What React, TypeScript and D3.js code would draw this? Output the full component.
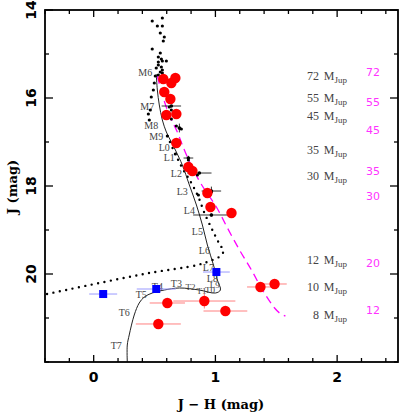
import React from "react";
import * as d3 from "d3";

// ---------- data ----------
const seqJH = [0.514, 0.523, 0.539, 0.564, 0.597, 0.638, 0.679, 0.728, 0.786, 0.844, 0.893, 0.934, 0.984, 1.016, 1.041, 1.0, 0.868, 0.704, 0.58, 0.481, 0.416, 0.374, 0.333, 0.292, 0.276, 0.276];
const seqJ = [15.455, 15.818, 16.159, 16.5, 16.773, 17.0, 17.227, 17.523, 17.977, 18.432, 18.886, 19.341, 19.795, 20.136, 20.364, 20.432, 20.364, 20.318, 20.364, 20.432, 20.523, 20.659, 20.932, 21.386, 21.614, 22.0];

const dashJH = [0.523, 0.564, 0.621, 0.687, 0.745, 0.819, 0.893, 1.008, 1.099, 1.198, 1.296, 1.387, 1.486, 1.527, 1.576];
const dashJ = [15.5, 15.932, 16.386, 16.773, 17.182, 17.636, 18.0, 18.477, 18.955, 19.455, 19.909, 20.364, 20.773, 20.886, 20.955];

const dotJH = [0.605, 0.663, 0.728, 0.802, 0.86, 0.91, 0.975, 1.033, 1.066, 1.041, 0.975, 0.852, 0.457, 0.045, -0.383];
const dotJ = [16.864, 17.227, 17.591, 17.932, 18.25, 18.614, 19.0, 19.318, 19.477, 19.591, 19.682, 19.795, 19.977, 20.205, 20.455];

const spLabels = ["M6", "M7", "M8", "M9", "L0", "L1", "L2", "L3", "L4", "L5", "L6", "L7", "L8", "L9", "T0", "T1", "T2", "T3", "T4", "T5", "T6", "T7"];
const spJH = [0.424, 0.44, 0.473, 0.514, 0.58, 0.621, 0.679, 0.728, 0.786, 0.852, 0.909, 0.942, 0.975, 0.995, 0.955, 0.885, 0.795, 0.679, 0.523, 0.391, 0.251, 0.185];
const spJ = [15.41, 16.2, 16.636, 16.886, 17.114, 17.341, 17.705, 18.114, 18.568, 19.023, 19.455, 19.841, 20.091, 20.25, 20.37, 20.39, 20.295, 20.227, 20.295, 20.455, 20.886, 21.636];

const smallJH = [0.481, 0.523, 0.564, 0.564, 0.547, 0.58, 0.572, 0.481, 0.547, 0.531, 0.556, 0.564, 0.531, 0.597, 0.531, 0.556, 0.514, 0.564, 0.547, 0.506, 0.531, 0.564, 0.498, 0.49, 0.473, 0.465, 0.449, 0.457, 0.621, 0.638, 0.638, 0.679, 0.704, 0.72, 0.605, 0.671, 0.778, 0.852, 0.86, 0.967, 0.967];
const smallJ = [14.25, 14.364, 14.364, 14.182, 14.523, 14.614, 14.705, 14.886, 14.977, 15.068, 15.114, 15.159, 15.182, 15.159, 15.25, 15.295, 15.318, 15.364, 15.409, 15.5, 15.477, 15.432, 15.659, 15.818, 15.977, 16.273, 16.364, 16.5, 16.205, 16.273, 16.477, 16.636, 16.682, 16.705, 16.864, 17.273, 17.409, 17.75, 18.205, 18.136, 18.659];

const crossJH = [0.638, 0.704, 0.778, 0.868, 0.967, 0.967];
const crossJ = [16.182, 16.682, 17.364, 17.705, 18.114, 18.659];
const crossEJH = [0.08, 0.0, 0.04, 0.1, 0.08, 0.15];
const crossEJ = [0.0, 0.1, 0.05, 0.0, 0.1, 0.0];

const redJH = [0.572, 0.671, 0.638, 0.58, 0.63, 0.597, 0.679, 0.679, 0.778, 0.811, 0.934, 0.959, 1.132, 1.37, 1.486, 0.605, 0.909, 1.082, 0.531];
const redJ = [15.568, 15.545, 15.659, 15.864, 16.023, 16.386, 16.364, 17.023, 17.568, 17.659, 18.159, 18.477, 18.614, 20.295, 20.227, 20.659, 20.614, 20.841, 21.136];
const redEJH = [0, 0, 0, 0, 0, 0, 0, 0, 0, 0, 0, 0, 0, 0.11, 0.1, 0.145, 0.255, 0.18, 0.185];
const redEJ = [0, 0, 0, 0, 0, 0, 0, 0, 0, 0, 0, 0, 0, 0.05, 0.05, 0.1, 0.17, 0.08, 0.11];

const blueJH = [0.078, 0.514, 1.008];
const blueJ = [20.455, 20.341, 19.955];
const blueEJH = [0.115, 0.16, 0.11];
const blueEJ = [0.06, 0.06, 0.06];

const massLabels = ["72", "55", "45", "35", "30", "12", "10", "8"];
const massJ = [15.49, 16.0, 16.41, 17.18, 17.77, 19.68, 20.3, 20.93];
const magentaLabels = ["72", "55", "45", "35", "30", "20", "12"];
const magentaJ = [15.43, 16.11, 16.73, 17.66, 18.23, 19.75, 20.84];

const xMajor = [0, 1, 2];
const yMajor = [14, 16, 18, 20];

// ---------- layout ----------
const W = 399, H = 414;
const L = 45, R = 398, T = 10, B = 362;

export default function App() {
  const x = d3.scaleLinear().domain([-0.4, 2.5]).range([L, R]);
  const y = d3.scaleLinear().domain([14, 22]).range([T, B]);

  const mk = () => d3.line<[number, number]>().x(d => x(d[0])).y(d => y(d[1])).curve(d3.curveCatmullRom.alpha(0.5));
  const seqPath = mk()(seqJH.map((v, i) => [v, seqJ[i]]));
  const dashPath = mk()(dashJH.map((v, i) => [v, dashJ[i]]));
  const dotPath = mk()(dotJH.map((v, i) => [v, dotJ[i]]));

  const xMinor = d3.range(-0.4, 2.5001, 0.2).map(v => +v.toFixed(2));
  const yMinor = d3.range(14, 22.001, 1);

  const tickFont = "DejaVu Sans";
  const labelColor = "#444";

  return (
    <svg width={W} height={H} style={{ position: "absolute", left: 0, top: 0, background: "#fff" }}>
      <rect x={0} y={0} width={W} height={H} fill="#fff" />
      <defs>
        <clipPath id="plot">
          <rect x={L} y={T} width={R - L} height={B - T} />
        </clipPath>
      </defs>

      <g clipPath="url(#plot)">
        <path d={dotPath || ""} fill="none" stroke="#000" strokeWidth={2.4} strokeDasharray="0 6.5" strokeLinecap="round" />
        <path d={dashPath || ""} fill="none" stroke="#f0f" strokeWidth={1.3} strokeDasharray="8 5" />
        <path d={seqPath || ""} fill="none" stroke="#222" strokeWidth={1} />

        {spLabels.map((s, i) => (
          <text key={s} x={x(spJH[i])} y={y(spJ[i])} fontFamily="Liberation Serif" fontSize={["L9", "T0", "T1", "T2"].includes(s) ? 9 : 10} fill={labelColor} textAnchor="middle" dominantBaseline="central">{s}</text>
        ))}

        {smallJH.map((v, i) => (
          <circle key={"s" + i} cx={x(v)} cy={y(smallJ[i])} r={1.6} fill="#000" />
        ))}
        {crossJH.map((v, i) => (
          <g key={"c" + i} stroke="#000" strokeWidth={0.8}>
            {crossEJH[i] > 0 && <line x1={x(v - crossEJH[i])} x2={x(v + crossEJH[i])} y1={y(crossJ[i])} y2={y(crossJ[i])} />}
            {crossEJ[i] > 0 && <line x1={x(v)} x2={x(v)} y1={y(crossJ[i] - crossEJ[i])} y2={y(crossJ[i] + crossEJ[i])} />}
            <circle cx={x(v)} cy={y(crossJ[i])} r={1.8} fill="#000" stroke="none" />
          </g>
        ))}

        {redJH.map((v, i) => (
          <g key={"re" + i} stroke="#ff8080" strokeWidth={1}>
            {redEJH[i] > 0 && <line x1={x(v - redEJH[i])} x2={x(v + redEJH[i])} y1={y(redJ[i])} y2={y(redJ[i])} />}
            {redEJ[i] > 0 && <line x1={x(v)} x2={x(v)} y1={y(redJ[i] - redEJ[i])} y2={y(redJ[i] + redEJ[i])} />}
          </g>
        ))}
        {redJH.map((v, i) => (
          <circle key={"r" + i} cx={x(v)} cy={y(redJ[i])} r={5.2} fill="#ff0000" />
        ))}

        {blueJH.map((v, i) => (
          <g key={"b" + i}>
            <line x1={x(v - blueEJH[i])} x2={x(v + blueEJH[i])} y1={y(blueJ[i])} y2={y(blueJ[i])} stroke="#9999ff" strokeWidth={1} />
            <line x1={x(v)} x2={x(v)} y1={y(blueJ[i] - blueEJ[i])} y2={y(blueJ[i] + blueEJ[i])} stroke="#9999ff" strokeWidth={1} />
            <rect x={x(v) - 4} y={y(blueJ[i]) - 4} width={8} height={8} fill="#0000ff" />
          </g>
        ))}
      </g>

      {massLabels.map((m, i) => (
        <g key={"m" + i} fontFamily="Liberation Serif" fill="#444">
          <text x={x(1.851)} y={y(massJ[i])} fontSize={12} textAnchor="end" dominantBaseline="central">{m}</text>
          <text x={x(1.89)} y={y(massJ[i])} fontSize={12} dominantBaseline="central">M<tspan fontSize={9} dy={4}>Jup</tspan></text>
        </g>
      ))}
      {magentaLabels.map((m, i) => (
        <text key={"g" + i} x={x(2.295)} y={y(magentaJ[i])} fontFamily="DejaVu Sans" fontSize={11} fill="#ff33ff" textAnchor="middle" dominantBaseline="central">{m}</text>
      ))}

      <rect x={L} y={T} width={R - L} height={B - T} fill="none" stroke="#000" strokeWidth={1.8} />

      {xMinor.map((v, i) => {
        const major = xMajor.some(m => Math.abs(m - v) < 1e-6);
        const len = major ? 7 : 4;
        return (
          <g key={"xt" + i} stroke="#000" strokeWidth={1.3}>
            <line x1={x(v)} x2={x(v)} y1={B} y2={B - len} />
            <line x1={x(v)} x2={x(v)} y1={T} y2={T + len} />
          </g>
        );
      })}
      {yMinor.map((v, i) => {
        const major = yMajor.includes(v);
        const len = major ? 8 : 4;
        return (
          <g key={"yt" + i} stroke="#000" strokeWidth={1.3}>
            <line x1={L} x2={L + len} y1={y(v)} y2={y(v)} />
            <line x1={R} x2={R - len} y1={y(v)} y2={y(v)} />
          </g>
        );
      })}

      {xMajor.map(v => (
        <text key={"xl" + v} x={x(v)} y={377} fontFamily={tickFont} fontWeight="bold" fontSize={14} textAnchor="middle" dominantBaseline="central">{v}</text>
      ))}
      {yMajor.map(v => (
        <text key={"yl" + v} transform={`translate(31,${y(v)}) rotate(-90)`} fontFamily={tickFont} fontWeight="bold" fontSize={14} textAnchor="middle" dominantBaseline="central">{v}</text>
      ))}

      <text x={221} y={404} fontFamily="DejaVu Serif" fontWeight="bold" fontSize={13} textAnchor="middle" dominantBaseline="central">J − H (mag)</text>
      <text transform={`translate(12,187) rotate(-90)`} fontFamily="DejaVu Serif" fontWeight="bold" fontSize={13} textAnchor="middle" dominantBaseline="central">J (mag)</text>
    </svg>
  );
}
